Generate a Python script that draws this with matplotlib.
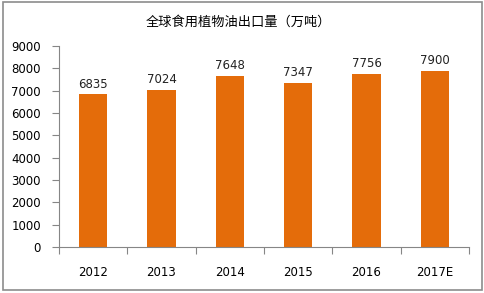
import matplotlib
matplotlib.use("Agg")
import matplotlib.pyplot as plt
from matplotlib.patches import Rectangle

plt.rcParams['font.family'] = ['Noto Sans CJK SC', 'DejaVu Sans']

categories = ["2012", "2013", "2014", "2015", "2016", "2017E"]
values = [6835, 7024, 7648, 7347, 7756, 7900]
title = "全球食用植物油出口量（万吨）"

fig = plt.figure(figsize=(4.85, 2.93), dpi=100)
fig.patches.append(Rectangle((3/485, 3/293), 479/485, 288/293, transform=fig.transFigure,
                             fill=False, edgecolor="#8c8c8c", linewidth=1.2))
ax = fig.add_axes([59/485, 1-247/293, 410/485, 201/293])
x = list(range(len(categories)))
ax.bar(x, values, width=0.41, color="#E46C0A", zorder=2)
for xi, v in zip(x, values):
    ax.text(xi, v + 170, str(v), ha="center", va="bottom", fontsize=8.5,
            family="DejaVu Sans", color="#222222")
ax.set_xlim(-0.5, len(categories) - 0.5)
ax.set_ylim(0, 9000)
ax.set_yticks(range(0, 9001, 1000))
ax.set_yticklabels([str(t) for t in range(0, 9001, 1000)], fontsize=8.5, family="DejaVu Sans")
ax.set_xticks([i - 0.5 for i in range(len(categories) + 1)])
ax.set_xticklabels([])
ax.set_xticks(x, minor=True)
ax.set_xticklabels(categories, minor=True, fontsize=8.5, family="DejaVu Sans")
ax.tick_params(axis="x", which="minor", length=0, pad=14)
ax.tick_params(axis="x", which="major", length=5, color="#868686", direction="out")
ax.tick_params(axis="y", length=5, color="#868686", pad=8)
for s in ["top", "right"]:
    ax.spines[s].set_visible(False)
for s in ["left", "bottom"]:
    ax.spines[s].set_color("#868686")
fig.text(238/485, 1-22/293, title, ha="center", va="center", fontsize=9.5)
fig.savefig("out.png", dpi=100)
